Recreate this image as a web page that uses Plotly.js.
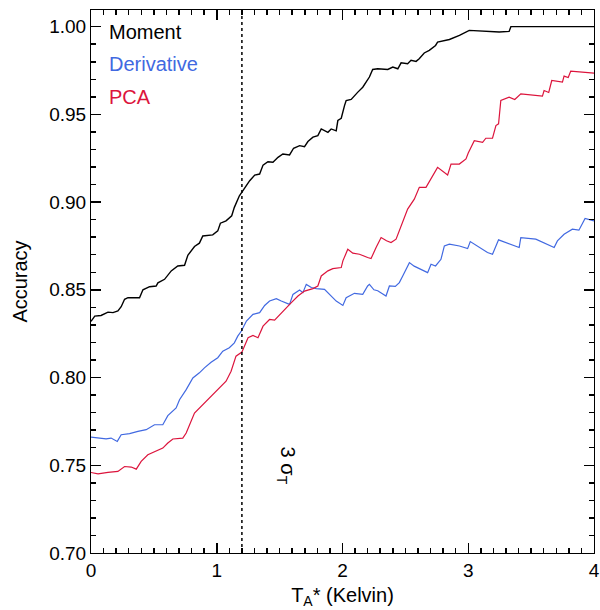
<!DOCTYPE html>
<html>
<head>
<meta charset="utf-8">
<script src="https://cdn.plot.ly/plotly-3.0.1.min.js"></script>
<style>html,body{margin:0;padding:0;background:#fff;}#chart{width:600px;height:610px;}</style>
</head>
<body>
<div id="chart"></div>
<script>
// Moment series
const momentX = [0,0.03,0.08,0.135,0.175,0.214,0.24,0.267,0.294,0.386,0.413,0.466,0.518,0.532,0.585,0.638,0.69,0.744,0.77,0.823,0.862,0.889,0.968,1.008,1.029,1.074,1.119,1.14,1.18,1.222,1.262,1.302,1.341,1.368,1.407,1.447,1.487,1.526,1.579,1.611,1.659,1.698,1.725,1.765,1.804,1.831,1.884,1.91,1.95,1.963,1.99,2.016,2.029,2.069,2.095,2.122,2.161,2.214,2.24,2.28,2.36,2.40,2.44,2.466,2.518,2.545,2.585,2.61,2.65,2.69,2.74,2.756,2.85,2.93,3.008,3.246,3.325,3.339,4.0];
const momentY = [0.832,0.835,0.8354,0.8373,0.837,0.838,0.8404,0.8446,0.8455,0.8455,0.850,0.8518,0.8522,0.854,0.856,0.8608,0.8636,0.864,0.8697,0.8747,0.8766,0.8807,0.8813,0.8836,0.888,0.8893,0.8922,0.897,0.9036,0.9084,0.9122,0.9154,0.916,0.9211,0.923,0.9227,0.9255,0.9274,0.9269,0.9307,0.9322,0.9316,0.9345,0.937,0.9379,0.9417,0.9398,0.9417,0.9406,0.9465,0.9478,0.955,0.9579,0.9585,0.9608,0.9627,0.9655,0.9713,0.9756,0.976,0.9756,0.977,0.976,0.9794,0.9789,0.9808,0.9802,0.9817,0.985,0.9865,0.9893,0.9912,0.9927,0.995,0.9979,0.997,0.9973,1.000,1.000];

// Derivative series
const derivX = [0,0.056,0.12,0.16,0.209,0.24,0.307,0.373,0.439,0.505,0.571,0.611,0.677,0.704,0.757,0.81,0.862,0.902,0.955,1.008,1.048,1.10,1.14,1.167,1.196,1.236,1.288,1.341,1.381,1.42,1.474,1.513,1.579,1.606,1.659,1.685,1.712,1.752,1.791,1.857,1.897,1.95,2.003,2.029,2.095,2.135,2.161,2.2,2.214,2.25,2.28,2.346,2.373,2.42,2.452,2.479,2.532,2.57,2.624,2.677,2.704,2.74,2.783,2.81,2.85,2.93,2.995,3.016,3.153,3.193,3.241,3.312,3.405,3.418,3.537,3.683,3.709,3.762,3.828,3.88,3.929,4.0];
const derivY = [0.7661,0.7655,0.765,0.7655,0.7636,0.7674,0.768,0.7693,0.7703,0.7731,0.7731,0.7783,0.7827,0.7874,0.7931,0.7998,0.8027,0.8055,0.8087,0.8113,0.815,0.817,0.8198,0.8236,0.8265,0.8322,0.836,0.837,0.8411,0.8436,0.845,0.8436,0.8417,0.8474,0.8499,0.8484,0.8531,0.8513,0.8507,0.8503,0.8474,0.8436,0.8411,0.8455,0.848,0.8474,0.8474,0.8522,0.8531,0.850,0.8495,0.8465,0.8522,0.852,0.8541,0.8579,0.8655,0.8635,0.8617,0.8598,0.8646,0.8636,0.8674,0.875,0.876,0.875,0.8735,0.8775,0.8713,0.8703,0.8785,0.8766,0.8741,0.8798,0.8789,0.8741,0.8779,0.8817,0.8846,0.884,0.8907,0.8893];

// PCA series
const pcaX = [0,0.056,0.135,0.214,0.267,0.32,0.36,0.399,0.452,0.518,0.571,0.611,0.651,0.73,0.757,0.823,0.889,0.968,1.021,1.074,1.114,1.153,1.2,1.222,1.249,1.288,1.328,1.368,1.42,1.46,1.526,1.593,1.646,1.698,1.765,1.804,1.831,1.884,1.923,1.99,2.003,2.042,2.082,2.135,2.2,2.227,2.267,2.307,2.35,2.386,2.426,2.466,2.518,2.571,2.611,2.664,2.704,2.756,2.836,2.863,2.929,2.982,3.0,3.048,3.114,3.140,3.193,3.22,3.241,3.259,3.325,3.37,3.418,3.59,3.603,3.64,3.664,3.749,3.762,3.795,3.815,4.0];
const pcaY = [0.7459,0.7451,0.7459,0.7465,0.7493,0.749,0.7478,0.7522,0.756,0.7579,0.7598,0.7627,0.765,0.7655,0.7684,0.7798,0.7846,0.7903,0.7941,0.7979,0.8036,0.8122,0.8145,0.8179,0.8227,0.824,0.8227,0.8293,0.8331,0.8327,0.8379,0.8427,0.8465,0.8493,0.8507,0.8522,0.8579,0.8608,0.8621,0.8627,0.8665,0.8731,0.8709,0.8703,0.8684,0.8678,0.8741,0.8798,0.878,0.877,0.8789,0.8865,0.896,0.9017,0.9084,0.9084,0.9131,0.9198,0.9154,0.9217,0.9217,0.9246,0.928,0.935,0.934,0.9364,0.9364,0.9436,0.9446,0.9579,0.9598,0.9585,0.9617,0.9604,0.9636,0.9625,0.9693,0.9684,0.9718,0.971,0.9747,0.9735];

const seriesNames = ["Moment", "Derivative", "PCA"];
const seriesColors = ["#000000", "#4169E1", "#DC143C"];
const thresholdX = 1.2;

const FONT = "Liberation Sans, Arial, sans-serif";

const traces = [
  {x: momentX, y: momentY, name: seriesNames[0], mode: "lines", line: {color: seriesColors[0], width: 1.4}},
  {x: derivX, y: derivY, name: seriesNames[1], mode: "lines", line: {color: seriesColors[1], width: 1.2}},
  {x: pcaX, y: pcaY, name: seriesNames[2], mode: "lines", line: {color: seriesColors[2], width: 1.2}}
];

const layout = {
  width: 600, height: 610,
  margin: {l: 91, r: 6, t: 10, b: 57},
  showlegend: false,
  xaxis: {
    range: [0, 4], dtick: 1,
    showline: true, linecolor: "#000", mirror: "allticks", ticks: "inside", ticklen: 10, tickcolor: "#000", tickwidth: 1.5,
    showgrid: false, zeroline: false,
    tickfont: {family: FONT, size: 19, color: "#000"},
    minor: {ticks: "inside", dtick: 0.1, ticklen: 5, tickcolor: "#000", tickwidth: 1.5},
    title: {text: "T<sub>A</sub>* (Kelvin)", font: {family: FONT, size: 20, color: "#000"}, standoff: 8}
  },
  yaxis: {
    range: [0.70, 1.0095], dtick: 0.05, tickformat: ".2f",
    showline: true, linecolor: "#000", mirror: "allticks", ticks: "inside", ticklen: 10, tickcolor: "#000", tickwidth: 1.5,
    showgrid: false, zeroline: false,
    tickfont: {family: FONT, size: 19, color: "#000"},
    minor: {ticks: "inside", dtick: 0.01, ticklen: 5, tickcolor: "#000", tickwidth: 1.5},
    title: {text: "Accuracy", font: {family: FONT, size: 20, color: "#000"}, standoff: 16}
  },
  shapes: [{type: "line", xref: "x", yref: "paper", x0: thresholdX, x1: thresholdX, y0: 0, y1: 1,
            line: {color: "#000", width: 1.5, dash: "dot"}}],
  annotations: [
    {xref: "paper", yref: "paper", x: 0.032, y: 0.959, xanchor: "left", yanchor: "middle", showarrow: false,
     text: seriesNames[0], font: {family: FONT, size: 20, color: seriesColors[0]}},
    {xref: "paper", yref: "paper", x: 0.032, y: 0.9006, xanchor: "left", yanchor: "middle", showarrow: false,
     text: seriesNames[1], font: {family: FONT, size: 20, color: seriesColors[1]}},
    {xref: "paper", yref: "paper", x: 0.032, y: 0.84, xanchor: "left", yanchor: "middle", showarrow: false,
     text: seriesNames[2], font: {family: FONT, size: 20, color: seriesColors[2]}},
    {xref: "x", yref: "y", x: 1.556, y: 0.750, showarrow: false, textangle: 90,
     text: "3 σ<sub>T</sub>", font: {family: FONT, size: 20, color: "#000"}}
  ]
};

Plotly.newPlot("chart", traces, layout, {displayModeBar: false, staticPlot: true});
</script>
</body>
</html>
